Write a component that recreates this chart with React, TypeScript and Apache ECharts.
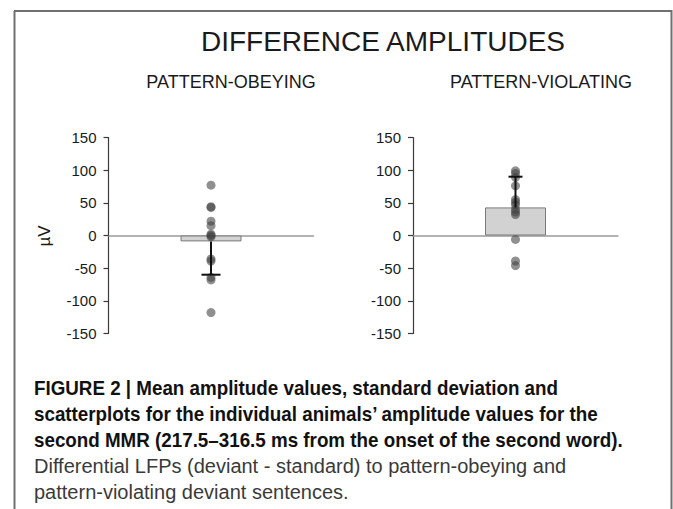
import React, { useEffect, useRef } from "react";
import * as echarts from "echarts";

const panelTitles = ["PATTERN-OBEYING", "PATTERN-VIOLATING"];
const categories = ["obeying", "violating"];
const means = [-9, 43];
const sdEnds = [-60, 90];
const obeyingPoints = [77, 44, 43, 22, 15, 2, 0, -2, -36, -39, -64, -68, -118];
const violatingPoints = [99, 95, 89, 76, 55, 51, 47, 40, 36, 32, -6, -39, -46];
const yTicks = { min: -150, max: 150, interval: 50 };
const mainTitle = "DIFFERENCE AMPLITUDES";
const yLabel = "µV";
const captionBold = [
  "FIGURE 2 | Mean amplitude values, standard deviation and",
  "scatterplots for the individual animals’ amplitude values for the",
  "second MMR (217.5–316.5 ms from the onset of the second word).",
];
const captionRegular = [
  "Differential LFPs (deviant - standard) to pattern-obeying and",
  "pattern-violating deviant sentences.",
];

const FONT = "'Liberation Sans', Arial, sans-serif";

export default function App() {
  const ref = useRef<HTMLDivElement>(null);
  useEffect(() => {
    if (!ref.current) return;
    const chart = echarts.init(ref.current, null, { renderer: "svg" });
    const grids = [
      { left: 108.5, top: 137.5, width: 205, height: 196 },
      { left: 413, top: 137.5, width: 205, height: 196 },
    ];
    const pointSets = [obeyingPoints, violatingPoints];
    const capWidths = [19, 14];
    const xAxes = grids.map((_, i) => ({
      type: "category",
      gridIndex: i,
      data: [categories[i]],
      boundaryGap: true,
      axisLine: { show: true, onZero: true, lineStyle: { color: "#9a9a9a", width: 1.5 } },
      axisTick: { show: false },
      axisLabel: { show: false },
      splitLine: { show: false },
    }));
    const yAxes = grids.map((_, i) => ({
      type: "value",
      gridIndex: i,
      min: yTicks.min,
      max: yTicks.max,
      interval: yTicks.interval,
      axisLine: { show: true, lineStyle: { color: "#3a3a3a", width: 1.2 } },
      axisTick: { show: true, length: 5, lineStyle: { color: "#3a3a3a", width: 1.2 } },
      axisLabel: { color: "#1a1a1a", fontSize: 15, fontFamily: FONT, margin: 12 },
      splitLine: { show: false },
    }));
    const series: any[] = [];
    grids.forEach((_, i) => {
      series.push({
        type: "bar",
        xAxisIndex: i,
        yAxisIndex: i,
        data: [means[i]],
        barWidth: 61,
        itemStyle: { color: "#d2d2d2", borderColor: "#7a7a7a", borderWidth: 1 },
        z: 2,
      });
      series.push({
        type: "scatter",
        xAxisIndex: i,
        yAxisIndex: i,
        data: pointSets[i].map((v) => [0, v]),
        symbolSize: 9,
        itemStyle: { color: "#404040", opacity: 0.58 },
        z: 3,
      });
      series.push({
        type: "custom",
        xAxisIndex: i,
        yAxisIndex: i,
        data: [[0, means[i], sdEnds[i]]],
        z: 4,
        renderItem: (params: any, api: any) => {
          const p0 = api.coord([api.value(0), api.value(1)]);
          const p1 = api.coord([api.value(0), api.value(2)]);
          const cw = capWidths[i] / 2;
          const style = { stroke: "#111", lineWidth: 2 };
          return {
            type: "group",
            children: [
              { type: "line", shape: { x1: p0[0], y1: p0[1], x2: p1[0], y2: p1[1] }, style },
              { type: "line", shape: { x1: p1[0] - cw, y1: p1[1], x2: p1[0] + cw, y2: p1[1] }, style },
            ],
          };
        },
      });
    });

    const captionGraphics: any[] = [];
    captionBold.forEach((t, k) => {
      captionGraphics.push({
        type: "text",
        x: 34,
        y: 388 + k * 26,
        scaleX: 0.94,
        style: { text: t, font: `bold 20px ${FONT}`, fill: "#111", verticalAlign: "middle" },
      });
    });
    captionRegular.forEach((t, k) => {
      captionGraphics.push({
        type: "text",
        x: 34,
        y: 388 + (captionBold.length + k) * 26,
        scaleX: 1.0,
        style: { text: t, font: `20px ${FONT}`, fill: "#3a3a3a", verticalAlign: "middle" },
      });
    });

    chart.setOption({
      animation: false,
      backgroundColor: "#ffffff",
      grid: grids,
      xAxis: xAxes,
      yAxis: yAxes,
      series,
      graphic: [
        { type: "line", shape: { x1: 14.5, y1: 11, x2: 14.5, y2: 509 }, style: { stroke: "#707070", lineWidth: 2 } },
        { type: "line", shape: { x1: 14, y1: 11, x2: 672, y2: 11 }, style: { stroke: "#707070", lineWidth: 2 } },
        { type: "line", shape: { x1: 671.5, y1: 10, x2: 671.5, y2: 509 }, style: { stroke: "#707070", lineWidth: 2 } },
        {
          type: "text",
          x: 383,
          y: 41,
          style: { text: mainTitle, font: `28px ${FONT}`, fill: "#1a1a1a", align: "center", verticalAlign: "middle" },
        },
        {
          type: "text",
          x: 231,
          y: 82,
          style: { text: panelTitles[0], font: `18px ${FONT}`, fill: "#1a1a1a", align: "center", verticalAlign: "middle" },
        },
        {
          type: "text",
          x: 541,
          y: 82,
          style: { text: panelTitles[1], font: `18px ${FONT}`, fill: "#1a1a1a", align: "center", verticalAlign: "middle" },
        },
        {
          type: "text",
          x: 44,
          y: 236,
          rotation: Math.PI / 2,
          style: { text: yLabel, font: `17px ${FONT}`, fill: "#1a1a1a", align: "center", verticalAlign: "middle" },
        },
        ...captionGraphics,
      ],
    });
    return () => chart.dispose();
  }, []);
  return (
    <div
      ref={ref}
      style={{ position: "absolute", left: 0, top: 0, width: 673, height: 509 }}
    />
  );
}
